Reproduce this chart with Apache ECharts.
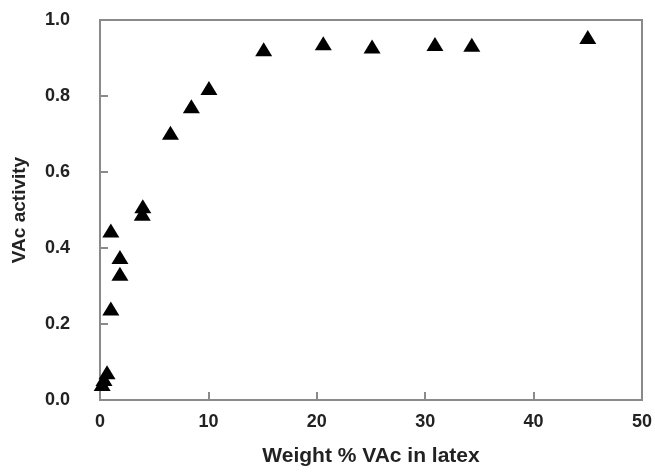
<!DOCTYPE html>
<html>
<head>
<meta charset="utf-8">
<script src="https://cdn.jsdelivr.net/npm/echarts@6/dist/echarts.min.js"></script>
<style>html,body{margin:0;padding:0;background:#fff}#c{width:655px;height:472px}</style>
</head>
<body>
<div id="c"></div>
<script>
const xValues = [0.2, 0.37, 0.65, 1.0, 1.0, 1.84, 1.84, 3.9, 3.95, 6.5, 8.43, 10.05, 15.1, 20.6, 25.1, 30.9, 34.3, 45.0];
const yValues = [0.042, 0.055, 0.073, 0.241, 0.446, 0.332, 0.376, 0.49, 0.51, 0.703, 0.773, 0.821, 0.923, 0.939, 0.930, 0.937, 0.935, 0.955];
const xTitle = 'Weight % VAc in latex';
const yTitle = 'VAc activity';

const pts = xValues.map((x, i) => [x, yValues[i]]);
const font = 'Liberation Sans, Arial, sans-serif';
const axisLineStyle = {color: '#8a8a8a', width: 2};
const chart = echarts.init(document.getElementById('c'));
chart.setOption({
  animation: false,
  grid: {left: 100, right: 11, top: 20, bottom: 70, show: true, borderColor: '#8a8a8a', borderWidth: 2},
  xAxis: {
    type: 'value', min: 0, max: 50, interval: 10,
    name: xTitle, nameLocation: 'middle', nameGap: 46,
    nameTextStyle: {fontFamily: font, fontWeight: 'bold', fontSize: 21, color: '#222'},
    axisLine: {show: true, lineStyle: axisLineStyle},
    axisTick: {show: true, inside: true, length: 8, lineStyle: {color: '#8a8a8a', width: 2}},
    axisLabel: {fontFamily: font, fontWeight: 'bold', fontSize: 18, color: '#222', margin: 13},
    splitLine: {show: false}
  },
  yAxis: {
    type: 'value', min: 0, max: 1, interval: 0.2,
    name: yTitle, nameLocation: 'middle', nameGap: 71, nameRotate: 90,
    nameTextStyle: {fontFamily: font, fontWeight: 'bold', fontSize: 19, color: '#222'},
    axisLine: {show: true, lineStyle: axisLineStyle},
    axisTick: {show: true, inside: true, length: 8, lineStyle: {color: '#8a8a8a', width: 2}},
    axisLabel: {fontFamily: font, fontWeight: 'bold', fontSize: 18, color: '#222', margin: 30,
      formatter: v => v.toFixed(1)},
    splitLine: {show: false}
  },
  series: [{
    type: 'scatter',
    data: pts,
    symbol: 'triangle',
    symbolSize: [17, 14],
    itemStyle: {color: '#000', opacity: 1}
  }]
});
</script>
</body>
</html>
